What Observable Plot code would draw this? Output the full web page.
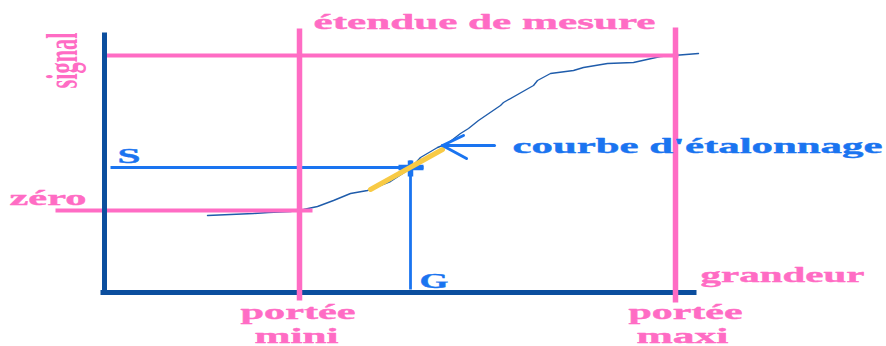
<!DOCTYPE html>
<html>
<head>
<meta charset="utf-8">
<script src="https://cdn.jsdelivr.net/npm/d3@7"></script>
<script src="https://cdn.jsdelivr.net/npm/@observablehq/plot@0.6"></script>
<style>
  html, body { margin: 0; padding: 0; background: #fff; }
  svg { display: block; }
</style>
</head>
<body>
<div id="chart"></div>
<script>
// ---- data (grandeur = horizontal units, signal = vertical units) ----
const curveG = [103,149,164,186,199,213,229,246,263,268,286,306,316,333,343,356,364,374,396,399,429,433,446,469,479,503,529,556,569,594];
const curveS = [77,79,80,81,83,86,92,99,102,104,111,124,135,145,149,159,164,172,187,190,207,212,219,222,225,229,230,236,237,239];

const porteeMini = 195;
const porteeMaxi = 571;
const signalMaxi = 237;
const signalZero = 82;
const mesureG = 306;
const mesureS = 125;

const tangentG = [266, 338];
const tangentS = [103, 143];

const axisSegments = [
  {x1: 0, y1: -2, x2: 0, y2: 260},
  {x1: -4, y1: 0, x2: 592, y2: 0}
];
const pinkSegments = [
  {x1: porteeMini, y1: -8, x2: porteeMini, y2: 264},
  {x1: porteeMaxi, y1: -10, x2: porteeMaxi, y2: 265},
  {x1: 0, y1: signalMaxi, x2: porteeMaxi + 3, y2: signalMaxi},
  {x1: -49, y1: signalZero, x2: 208, y2: signalZero}
];
const blueSegments = [
  {x1: 6, y1: mesureS, x2: 319, y2: mesureS},
  {x1: mesureG, y1: 3, x2: mesureG, y2: 132}
];
const crossSegments = [
  {x1: 294, y1: mesureS, x2: 319, y2: mesureS},
  {x1: mesureG, y1: 116, x2: mesureG, y2: 132}
];
const arrowSegments = [
  {x1: 390, y1: 147, x2: 338, y2: 147},
  {x1: 338, y1: 147, x2: 359, y2: 157},
  {x1: 338, y1: 147, x2: 362, y2: 134}
];

const pinkLabels = [
  {text: "étendue de mesure", g: 380, s: 264},
  {text: "zéro", g: -56.5, s: 88},
  {text: "grandeur", g: 678, s: 11},
  {text: "portée", g: 193.5, s: -26},
  {text: "mini", g: 192, s: -50},
  {text: "portée", g: 581, s: -26},
  {text: "maxi", g: 578, s: -50}
];
const blueLabels = [
  {text: "S", g: 24.5, s: 130},
  {text: "courbe d'étalonnage", g: 593, s: 140},
  {text: "G", g: 329.5, s: 5}
];
const axisLabel = [{text: "signal", g: -28, s: 232}];

// ---- styles (kept apart from the data) ----
const PINK = "#ff6cc4";
const DARK = "#0b4e9e";
const BLUE = "#1a74f0";
const CURVE = "#1f5cab";
const YELLOW = "#f8ca45";
const labelLengths = [
  [342, 77, 164, 115, 84, 114, 92],
  [23, 370, 29],
  [56]
];

const curve = curveG.map((g, i) => ({g, s: curveS[i]}));
const tangent = tangentG.map((g, i) => ({g, s: tangentS[i]}));

const font = {fontFamily: "Liberation Serif", fontWeight: "bold", lineAnchor: "bottom", textAnchor: "middle"};
const seg = {x1: "x1", y1: "y1", x2: "x2", y2: "y2"};

const plot = Plot.plot({
  width: 886,
  height: 346,
  margin: 0,
  x: {domain: [-104, 782], axis: null},
  y: {domain: [-54, 292], axis: null},
  marks: [
    Plot.link(blueSegments, {...seg, stroke: BLUE, strokeWidth: 2.8}),
    Plot.link(crossSegments, {...seg, stroke: BLUE, strokeWidth: 5.5}),
    Plot.line(curve, {x: "g", y: "s", stroke: CURVE, strokeWidth: 1.4}),
    Plot.line(tangent, {x: "g", y: "s", stroke: YELLOW, strokeWidth: 5}),
    Plot.link(pinkSegments.slice(2), {...seg, stroke: PINK, strokeWidth: 4}),
    Plot.link(axisSegments, {...seg, stroke: DARK, strokeWidth: 5}),
    Plot.link(pinkSegments.slice(0, 2), {...seg, stroke: PINK, strokeWidth: 5.5}),
    Plot.link(arrowSegments, {...seg, stroke: BLUE, strokeWidth: 3, strokeLinecap: "round"}),
    Plot.text(pinkLabels, {x: "g", y: "s", text: "text", fill: PINK, fontSize: 22, stroke: PINK, strokeWidth: 0.4, ...font}),
    Plot.text(blueLabels, {x: "g", y: "s", text: "text", fill: BLUE, fontSize: 22, stroke: BLUE, strokeWidth: 0.4, ...font}),
    Plot.text(axisLabel, {x: "g", y: "s", text: "text", fill: PINK, fontSize: 44, rotate: -90, ...font})
  ]
});

document.getElementById("chart").appendChild(plot);

// stretch each label horizontally (along its baseline) to the width
plot.querySelectorAll('g[aria-label="text"]').forEach((grp, k) => {
  grp.querySelectorAll("text").forEach((t, i) => {
    const natural = t.getComputedTextLength();
    if (!natural) return;
    const sx = labelLengths[k][i] / natural;
    const base = t.getAttribute("transform") || "";
    t.setAttribute("transform", `${base} scale(${sx.toFixed(4)},1)`);
  });
});
</script>
</body>
</html>
